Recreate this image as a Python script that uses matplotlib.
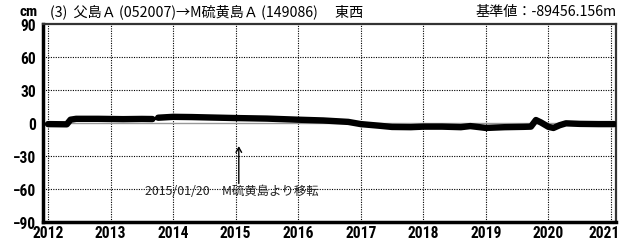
import matplotlib
matplotlib.use("Agg")
import matplotlib.pyplot as plt
import matplotlib.transforms as mtransforms
import numpy as np

plt.rcParams['font.family'] = ['Noto Sans CJK JP', 'DejaVu Sans']

# ---- data (decimal year, cm) ----
years = [2012.0, 2012.30, 2012.36, 2012.45, 2012.8, 2013.2, 2013.5, 2013.67,
         2013.70,
         2013.76, 2014.0, 2014.3, 2014.6, 2015.0, 2015.5, 2016.0, 2016.4,
         2016.8, 2017.0, 2017.3, 2017.5, 2017.8, 2018.0, 2018.3, 2018.6,
         2018.75, 2018.9, 2019.0, 2019.3, 2019.6, 2019.72, 2019.80, 2019.88,
         2020.0, 2020.08, 2020.18, 2020.28, 2020.5, 2020.8, 2021.05]
values = [-1.0, -1.2, 3.0, 3.8, 3.8, 3.5, 3.7, 3.6,
          np.nan,
          4.8, 5.6, 5.4, 5.0, 4.5, 4.0, 3.0, 2.3,
          1.0, -1.0, -2.5, -3.6, -3.8, -3.3, -3.3, -3.8,
          -2.8, -3.8, -4.5, -3.8, -3.5, -3.3, 2.7, 0.5,
          -3.5, -4.5, -2.0, -0.3, -0.8, -1.0, -1.0]

xticks = [2012, 2013, 2014, 2015, 2016, 2017, 2018, 2019, 2020, 2021]
yticks = [-90, -60, -30, 0, 30, 60, 90]
ytick_labels = ["\u221290", "\u221260", "\u221230", "0", "30", "60", "90"]

event_year = 2015.05
event_label = "2015/01/20\u3000M硫黄島より移転"
title_text = "(3)  父島Ａ (052007)\u2192M硫黄島Ａ (149086)\u3000 東西"
ref_text = "基準値：-89456.156m"

fig = plt.figure(figsize=(6.22, 2.51), dpi=100)
ax = fig.add_axes([43/622, 1-223/251, (616-43)/622, (223-25)/251])

ax.set_xlim(2011.92, 2021.08)
ax.set_ylim(-90, 90)

# grid
for x in xticks:
    ax.axvline(x, color='black', lw=0.8, ls=(0, (1, 1.2)), zorder=1)
for y in [-60, -30, 30, 60]:
    ax.axhline(y, color='black', lw=0.8, ls=(0, (1, 1.2)), zorder=1)
ax.axhline(0, color='#999999', lw=1.0, zorder=2)

ax.plot(years, values, color='black', lw=4.6, solid_capstyle='round',
        solid_joinstyle='round', zorder=3)

ax.set_xticks(xticks)
ax.set_yticks(yticks)
ax.set_yticklabels(ytick_labels)
ax.tick_params(length=0)
ax.tick_params(axis='y', pad=5)
ax.tick_params(axis='x', pad=2)
tick_font = ['Roboto Condensed', 'Liberation Sans Narrow', 'Roboto', 'DejaVu Sans']
for lab in ax.get_xticklabels() + ax.get_yticklabels():
    lab.set_family(tick_font)
    lab.set_fontweight('bold')
    lab.set_fontsize(11.2)

# keep the last year label inside the figure
last = ax.get_xticklabels()[-1]
last.set_transform(last.get_transform() +
                   mtransforms.ScaledTranslation(-7/100, 0, fig.dpi_scale_trans))

for side in ['left', 'bottom']:
    ax.spines[side].set_linewidth(2.5)
for side in ['top', 'right']:
    ax.spines[side].set_linewidth(1.6)
    ax.spines[side].set_color('#333333')

# annotation
ax.annotate('', xy=(event_year, -21), xytext=(event_year, -55),
            arrowprops=dict(arrowstyle='->,head_length=0.35,head_width=0.2',
                            color='black', lw=1.0, shrinkA=0, shrinkB=0))
ax.text(2013.55, -61, event_label, fontsize=8.9, va='center', ha='left',
        color='#222222')

fig.text(38/622, 1-12/251, "cm", fontsize=11, fontweight='bold',
         family=tick_font, va='center', ha='right')
fig.text(50/622, 1-12/251, title_text, fontsize=10.2, va='center', ha='left')
fig.text(617/622, 1-12/251, ref_text, fontsize=10.2, va='center', ha='right')

fig.savefig("out.png", dpi=100)
